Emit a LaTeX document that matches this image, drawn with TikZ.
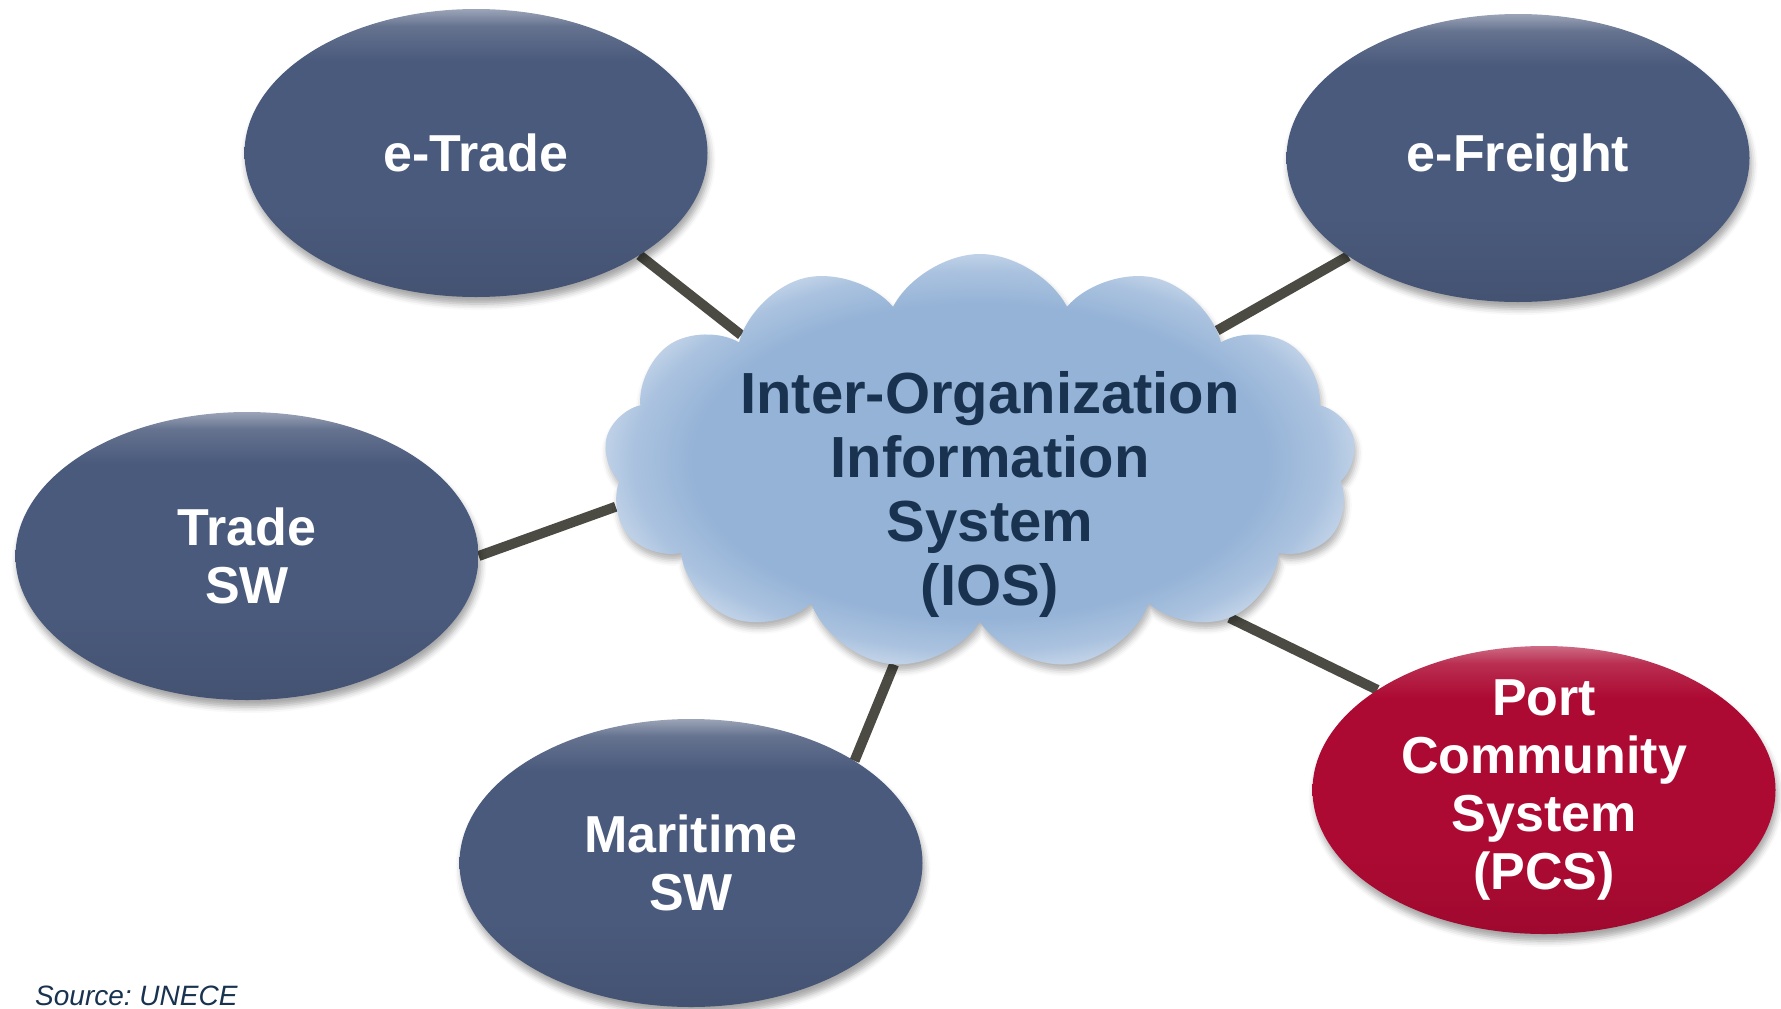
\documentclass[tikz,border=0pt]{standalone}
\usepackage{fontspec}
\setmainfont{Liberation Sans}
\usepackage{xcolor}
\usetikzlibrary{shapes.geometric,shapes.symbols,shadows.blur,backgrounds}

\definecolor{elblue}{HTML}{4A5A7C}
\definecolor{elred}{HTML}{AD0A33}
\definecolor{cloudblue}{HTML}{95B3D7}
\definecolor{iosnavy}{HTML}{18324F}
\definecolor{linkgray}{HTML}{4B4B43}

\pgfdeclareverticalshading{EL0shade}{100bp}{color(0bp)=(elblue!90!black); color(25bp)=(elblue!92!black); color(40bp)=(elblue); color(66bp)=(elblue); color(72bp)=(elblue!85!white); color(75bp)=(elblue!55!white); color(100bp)=(elblue!55!white)}
\pgfdeclareverticalshading{EL1shade}{100bp}{color(0bp)=(elred!90!black); color(25bp)=(elred!92!black); color(40bp)=(elred); color(66bp)=(elred); color(72bp)=(elred!85!white); color(75bp)=(elred!60!white); color(100bp)=(elred!60!white)}
\pgfdeclareradialshading{CLshade}{\pgfpoint{0bp}{0bp}}{color(0bp)=(cloudblue); color(19bp)=(cloudblue); color(23bp)=(cloudblue!80!white); color(25bp)=(cloudblue!60!white); color(50bp)=(cloudblue!60!white)}

\begin{document}
\begin{tikzpicture}[x=1pt,y=1pt]
    \tikzstyle{EL0} = [ellipse, minimum width=463pt, minimum height=288pt, inner sep=0pt, align=center, text=white, font=\bfseries\fontsize{52}{58}\selectfont, shading=EL0shade, blur shadow={shadow xshift=2pt, shadow yshift=-7pt, shadow blur radius=6pt, shadow opacity=35}]
    \tikzstyle{EL1} = [EL0, shading=EL1shade, inner ysep=-30pt]
    \tikzstyle{CL} = [cloud, cloud puffs=13, cloud puff arc=125, cloud ignores aspect, minimum width=752pt, minimum height=416pt, inner sep=0pt, shading=CLshade, blur shadow={shadow xshift=2pt, shadow yshift=-6pt, shadow blur radius=6pt, shadow opacity=30}]
    \tikzstyle{CT} = [align=center, text=iosnavy, font=\bfseries\fontsize{58}{64}\selectfont, inner sep=0pt]
    \tikzstyle{LK} = [draw=linkgray, line width=10pt]
    \useasboundingbox (0,0) rectangle (1781,-1009);
    \node (etrade) at (476,-153) [EL0] {e-Trade};
    \node (efreight) at (1518,-158) [EL0] {e-Freight};
    \node (tradesw) at (247,-556) [EL0] {Trade\\SW};
    \node (maritime) at (691,-863) [EL0] {Maritime\\SW};
    \node (pcs) at (1544,-790) [EL1] {Port\\Community\\System\\(PCS)};
    \node (ios) at (980,-462) [CL] {};
    \node (iosLabel) at (990,-494) [CT] {Inter-Organization\\Information\\System\\(IOS)};
    \node (src) at (35,-1005) [anchor=base west, inner sep=0pt, text=iosnavy, font=\itshape\fontsize{28}{30}\selectfont] {Source:\ UNECE};
    \begin{scope}[on background layer]
    \draw[LK] (etrade.-32) -- (ios.152);
    \draw[LK] (efreight.-150) -- (ios.29);
    \draw[LK] (tradesw.0) -- (ios.-173);
    \draw[LK] (maritime.32) -- (ios.-113);
    \draw[LK] (pcs.149) -- (ios.-32);
    \end{scope}
\end{tikzpicture}
\end{document}
